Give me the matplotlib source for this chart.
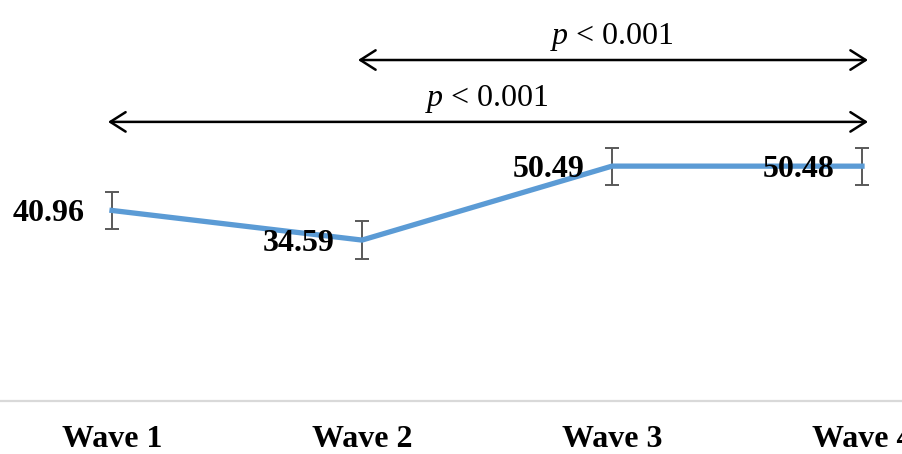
import matplotlib
matplotlib.use("Agg")
import matplotlib.pyplot as plt

waves = ["Wave 1", "Wave 2", "Wave 3", "Wave 4"]
means = [40.96, 34.59, 50.49, 50.48]
errors = [4.0, 4.0, 4.0, 4.0]
comparisons = [(1, 3, "< 0.001"), (0, 3, "< 0.001")]  # (from, to, p-text)

SERIF = ["Liberation Serif", "DejaVu Serif"]
plt.rcParams["mathtext.fontset"] = "custom"
plt.rcParams["mathtext.it"] = "Liberation Serif:italic"
plt.rcParams["mathtext.rm"] = "Liberation Serif"

fig = plt.figure(figsize=(9.02, 4.54), dpi=100)
ax = fig.add_axes([0, 53 / 454, 1, 401 / 454])

x = list(range(len(waves)))
ax.errorbar(x, means, yerr=errors, color="#5b9bd5", linewidth=3.8,
            ecolor="#595959", elinewidth=1.4, capsize=5, capthick=1.4,
            zorder=3)

for xi, v in zip(x, means):
    ax.annotate(f"{v:.2f}", (xi, v), xytext=(-19.5, 0),
                textcoords="offset points", ha="right", va="center_baseline",
                fontsize=23, fontweight="bold", family=SERIF, color="black",
                zorder=4)

ax.set_xlim(-0.448, 3.16)
ax.set_ylim(0, 86.2)

# significance arrows
arrow_levels = [73.3, 60.0]
for (a, b, ptxt), yl in zip(comparisons, arrow_levels):
    ax.annotate("", xy=(b + 0.024, yl), xytext=(a - 0.016, yl),
                arrowprops=dict(arrowstyle="<->,head_length=0.55,head_width=0.35",
                                color="black", lw=1.8, shrinkA=0, shrinkB=0,
                                mutation_scale=20))
    ax.annotate(f"$p$ {ptxt}", ((a + b) / 2, yl), xytext=(0, 11.5),
                textcoords="offset points", ha="center", va="baseline",
                fontsize=23, family=SERIF, color="black")

ax.set_xticks(x)
ax.set_xticklabels(waves, fontsize=23, fontweight="bold", family=SERIF)
ax.tick_params(axis="x", length=0, pad=17)
ax.set_yticks([])
for s in ["top", "right", "left"]:
    ax.spines[s].set_visible(False)
ax.spines["bottom"].set_color("#d9d9d9")
ax.spines["bottom"].set_linewidth(1.6)

fig.savefig("out.png", dpi=100)
